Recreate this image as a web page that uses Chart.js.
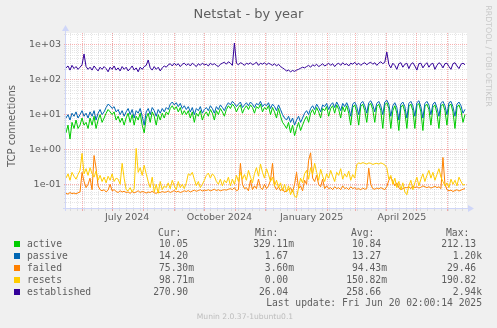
<!DOCTYPE html>
<html>
<head>
<meta charset="utf-8">
<title>Netstat - by year</title>
<script src="https://cdn.jsdelivr.net/npm/chart.js@4.4.1/dist/chart.umd.min.js"></script>
<style>
  html, body { margin: 0; padding: 0; background: #f0f0f0; }
  canvas { display: block; }
</style>
</head>
<body>
<canvas id="netstat" width="497" height="328"></canvas>
<script>
// one sample every 2 days, day 0 = 2024-05-16 (munin year view = 400 days)
const DAY_STEP = 2;

const active = [
  3, 5, 2, 6, 4, 7, 4, 5, 8, 5,
  6, 4, 8, 5, 9, 4, 7, 10, 6, 8,
  11, 14, 12, 10, 12, 7, 9, 6, 8, 5,
  8, 11, 6, 10, 5, 9, 7, 11, 5, 3,
  8, 11, 6, 12, 9, 5, 10, 7, 11, 8,
  12, 10, 15, 18, 14, 17, 12, 16, 10, 13,
  10, 13, 8, 12, 6, 11, 9, 13, 7, 10,
  12, 9, 14, 11, 7, 13, 10, 15, 12, 9,
  14, 18, 15, 20, 17, 12, 16, 19, 11, 15,
  18, 14, 19, 16, 11, 17, 15, 20, 12, 16,
  14, 18, 10, 16, 12, 8, 15, 9, 6, 5,
  4, 6, 3, 5, 2.5, 4, 6, 3.5, 5, 7,
  9, 6, 11, 14, 10, 16, 12, 8, 15, 13,
  17, 9, 15, 18, 11, 19, 14, 8, 17, 12,
  18, 11, 5, 16, 19, 12, 5, 17, 20, 13,
  6, 18, 21, 14, 6, 17, 20, 13, 4, 19,
  22, 15, 4, 13, 18, 11, 3.5, 16, 19, 12,
  4, 17, 20, 13, 4, 18, 21, 12, 3.5, 17,
  20, 14, 5, 16, 19, 11, 4, 17, 20, 13,
  5, 18, 20, 12, 4, 16, 19, 13, 6, 10.05
];

const passive = [
  8, 10, 7, 11, 9, 12, 8, 10, 13, 9,
  11, 8, 12, 9, 13, 7, 11, 14, 10, 12,
  16, 20, 18, 15, 17, 12, 14, 10, 13, 9,
  12, 15, 10, 14, 8, 13, 11, 15, 9, 5,
  12, 15, 10, 16, 13, 9, 14, 11, 15, 12,
  16, 14, 20, 23, 19, 22, 17, 21, 15, 18,
  14, 17, 12, 16, 10, 15, 13, 17, 11, 14,
  16, 13, 18, 15, 11, 17, 14, 19, 16, 13,
  18, 22, 19, 24, 21, 17, 20, 23, 16, 19,
  22, 18, 23, 20, 16, 21, 19, 24, 17, 20,
  18, 22, 15, 20, 17, 13, 19, 14, 10, 8,
  7, 9, 6, 8, 5, 7, 9, 6, 8, 11,
  13, 10, 15, 18, 14, 20, 16, 12, 19, 17,
  21, 14, 19, 22, 16, 23, 18, 13, 21, 17,
  22, 16, 9, 20, 23, 17, 10, 21, 24, 18,
  11, 22, 25, 19, 12, 21, 24, 18, 10, 23,
  26, 20, 9, 18, 22, 16, 7, 20, 23, 17,
  8, 21, 24, 18, 9, 22, 25, 17, 8, 21,
  24, 19, 10, 20, 23, 16, 9, 21, 24, 18,
  10, 22, 24, 17, 9, 20, 23, 18, 11, 14.2
];

const failed = [
  0.055, 0.052, 0.058, 0.054, 0.056, 0.053, 0.057, 0.06, 0.22, 0.12,
  0.08, 0.1, 0.15, 0.07, 0.67, 0.29, 0.09, 0.07, 0.065, 0.07,
  0.06, 0.068, 0.1, 0.065, 0.07, 0.062, 0.058, 0.065, 0.06, 0.063,
  0.058, 0.06, 0.055, 0.062, 0.057, 0.06, 0.065, 0.058, 0.062, 0.06,
  0.056, 0.06, 0.058, 0.063, 0.057, 0.055, 0.06, 0.058, 0.062, 0.059,
  0.06, 0.064, 0.058, 0.062, 0.066, 0.06, 0.063, 0.058, 0.061, 0.065,
  0.062, 0.066, 0.06, 0.064, 0.068, 0.063, 0.066, 0.07, 0.064, 0.068,
  0.066, 0.07, 0.065, 0.068, 0.072, 0.066, 0.07, 0.065, 0.068, 0.07,
  0.068, 0.072, 0.075, 0.07, 0.08, 0.065, 0.07, 0.4, 0.1, 0.075,
  0.08, 0.065, 0.13, 0.07, 0.09, 0.075, 0.14, 0.08, 0.07, 0.1,
  0.075, 0.09, 0.13, 0.4, 0.09, 0.07, 0.085, 0.065, 0.075, 0.06,
  0.065, 0.07, 0.08, 0.06, 0.1, 0.22, 0.075, 0.09, 0.065, 0.13,
  0.1, 0.49, 0.8, 0.15, 0.12, 0.18, 0.1, 0.085, 0.14, 0.075,
  0.09, 0.075, 0.08, 0.07, 0.085, 0.075, 0.08, 0.07, 0.09, 0.075,
  0.08, 0.07, 0.085, 0.075, 0.08, 0.072, 0.075, 0.07, 0.078, 0.072,
  0.075, 0.29, 0.1, 0.075, 0.072, 0.078, 0.074, 0.08, 0.075, 0.07,
  0.085, 0.13, 0.16, 0.12, 0.09, 0.11, 0.08, 0.07, 0.075, 0.08,
  0.08, 0.085, 0.075, 0.09, 0.08, 0.085, 0.078, 0.082, 0.09, 0.085,
  0.08, 0.085, 0.078, 0.082, 0.088, 0.08, 0.085, 0.075, 0.59, 0.1,
  0.07, 0.065, 0.068, 0.062, 0.066, 0.07, 0.064, 0.068, 0.072, 0.0753
];

const resets = [
  0.15, 0.2, 0.13, 0.22, 0.17, 0.14, 0.19, 0.25, 0.77, 0.2,
  0.28, 0.18, 0.3, 0.2, 0.16, 0.24, 0.13, 0.18, 0.12, 0.16,
  0.11, 0.17, 0.13, 0.2, 0.12, 0.15, 0.14, 0.1, 0.4, 0.15,
  0.07, 0.065, 0.08, 0.06, 0.075, 1.07, 0.22, 0.3, 0.18, 0.35,
  0.2, 0.12, 0.08, 0.16, 0.06, 0.1, 0.055, 0.12, 0.07, 0.09,
  0.08, 0.11, 0.075, 0.13, 0.09, 0.07, 0.12, 0.08, 0.1, 0.075,
  0.11, 0.2, 0.18, 0.22, 0.14, 0.09, 0.12, 0.08, 0.1, 0.13,
  0.18, 0.21, 0.15, 0.2, 0.17, 0.12, 0.1, 0.14, 0.09, 0.13,
  0.11, 0.16, 0.09, 0.14, 0.1, 0.18, 0.12, 0.22, 0.14, 0.19,
  0.13, 0.25, 0.16, 0.11, 0.2, 0.3, 0.17, 0.38, 0.22, 0.15,
  0.28, 0.19, 0.12, 0.16, 0.09, 0.13, 0.08, 0.11, 0.065, 0.1,
  0.06, 0.09, 0.05, 0.07, 0.045, 0.042, 0.08, 0.15, 0.11, 0.2,
  0.25, 0.14, 0.3, 0.19, 0.4, 0.22, 0.13, 0.27, 0.17, 0.12,
  0.2, 0.15, 0.25, 0.17, 0.12, 0.22, 0.18, 0.28, 0.14, 0.2,
  0.16, 0.24, 0.13, 0.19, 0.15, 0.37, 0.41, 0.39, 0.42, 0.4,
  0.38, 0.41, 0.4, 0.37, 0.39, 0.4, 0.38, 0.41, 0.39, 0.36,
  0.3, 0.14, 0.18, 0.1, 0.15, 0.08, 0.12, 0.07, 0.11, 0.06,
  0.05, 0.09, 0.13, 0.07, 0.11, 0.16, 0.09, 0.14, 0.2, 0.12,
  0.18, 0.25, 0.15, 0.22, 0.13, 0.19, 0.28, 0.16, 0.12, 0.09,
  0.11, 0.08, 0.14, 0.1, 0.13, 0.09, 0.16, 0.12, 0.095, 0.0987
];

const established = [
  220, 250, 190, 260, 210, 240, 200, 230, 270, 550,
  240, 200, 230, 190, 250, 210, 180, 230, 200, 240,
  210, 170, 230, 200, 250, 190, 220, 180, 240, 200,
  230, 180, 210, 250, 190, 220, 170, 230, 200, 240,
  260, 370, 220, 190, 240, 200, 230, 180, 220, 250,
  230, 270, 290, 250, 300, 260, 290, 240, 280, 300,
  260, 290, 250, 300, 270, 240, 290, 260, 300, 270,
  280, 250, 300, 270, 290, 260, 240, 280, 300, 320,
  280, 330, 300, 260, 1140, 300, 270, 310, 290, 260,
  300, 280, 310, 270, 290, 320, 260, 300, 280, 310,
  270, 300, 280, 260, 290, 250, 280, 240, 220, 200,
  180, 190, 170, 185, 175, 190, 200, 215, 230, 220,
  240, 260, 230, 270, 250, 280, 240, 260, 290, 250,
  270, 300, 260, 290, 240, 280, 300, 260, 310, 270,
  290, 250, 300, 280, 320, 270, 300, 260, 290, 310,
  270, 300, 320, 280, 310, 260, 300, 330, 290, 320,
  630, 280, 220, 300, 260, 200, 290, 310, 230, 280,
  300, 210, 280, 310, 250, 190, 290, 300, 220, 270,
  310, 230, 280, 300, 200, 260, 310, 280, 220, 290,
  300, 240, 200, 290, 310, 250, 210, 280, 300, 270.9
];

const seriesNames = ['active', 'passive', 'failed', 'resets', 'established'];
const seriesColors = ['#00cc00', '#0066b3', '#ff8000', '#ffcc00', '#330099'];
const seriesValues = [active, passive, failed, resets, established];

const curVals = ['10.05', '14.20', '75.30m', '98.71m', '270.90'];
const minVals = ['329.11m', '1.67', '3.60m', '0.00', '26.04'];
const avgVals = ['10.84', '13.27', '94.43m', '150.82m', '258.66'];
const maxVals = ['212.13', '1.20k', '29.46', '190.82', '2.94k'];
const lastUpdate = 'Last update: Fri Jun 20 02:00:14 2025';

// x axis (days since 2024-05-16)
const X_DAYS = 400;
const monthStarts = [16, 46, 77, 108, 138, 169, 199, 230, 261, 289, 320, 350, 381];
const firstMonday = 4;
const quarterLabels = ['July 2024', 'October 2024', 'January 2025', 'April 2025'];
const quarterLabelDays = [61, 153, 245, 335];

// y axis
const Y_MIN = 0.0195, Y_MAX = 2210;
const yDecades = [0.1, 1, 10, 100, 1000];

const GRID = 'rgba(170,170,170,0.3)';
const MGRID = 'rgba(240,110,110,0.55)';
const FONT = '#5e5e5e';
const AXIS = '#cfd6f8';

const xTicks = [];
for (let d = firstMonday; d < X_DAYS; d += 7) xTicks.push({ value: d, kind: 'week' });
monthStarts.forEach(d => xTicks.push({ value: d, kind: 'month' }));
quarterLabelDays.forEach((d, i) => xTicks.push({ value: d, kind: 'label', txt: quarterLabels[i] }));
xTicks.sort((a, b) => a.value - b.value);

const yTicks = [];
for (let e = -2; e <= 3; e++) {
  for (let k = 1; k <= 9; k++) {
    const v = +(k * Math.pow(10, e)).toPrecision(6);
    if (v >= Y_MIN && v <= Y_MAX) yTicks.push({ value: v, kind: k === 1 ? 'month' : 'week' });
  }
}

function gridColor(c) {
  if (!c.tick) return 'transparent';
  if (c.tick.kind === 'month') return MGRID;
  if (c.tick.kind === 'week') return GRID;
  return 'transparent';
}

function fmtExp(v) {
  const e = Math.round(Math.log10(v));
  return '1e' + (e < 0 ? '-' : '+') + String(Math.abs(e)).padStart(2, '0');
}

const datasets = seriesNames.map((name, s) => ({
  label: name,
  data: seriesValues[s].map((v, i) => ({ x: i * DAY_STEP, y: v })),
  borderColor: seriesColors[s],
  backgroundColor: seriesColors[s],
  borderWidth: 1,
  pointRadius: 0,
  tension: 0,
  fill: false,
  order: seriesNames.length - s
}));

const rrdDecor = {
  id: 'rrdDecor',
  beforeDraw(chart) {
    const { ctx, chartArea: a } = chart;
    ctx.save();
    ctx.fillStyle = '#f0f0f0';
    ctx.fillRect(0, 0, chart.width, chart.height);
    ctx.fillStyle = '#ffffff';
    ctx.fillRect(a.left, a.top, a.right - a.left, a.bottom - a.top);
    ctx.restore();
  },
  afterDraw(chart) {
    const { ctx, chartArea: a } = chart;
    ctx.save();

    // axes + arrows
    ctx.strokeStyle = AXIS;
    ctx.fillStyle = AXIS;
    ctx.lineWidth = 1;
    ctx.beginPath();
    ctx.moveTo(a.left - 3, a.bottom - 0.5);
    ctx.lineTo(a.right + 2, a.bottom - 0.5);
    ctx.moveTo(a.left - 0.5, a.bottom + 2);
    ctx.lineTo(a.left - 0.5, a.top - 3);
    ctx.stroke();
    ctx.beginPath();
    ctx.moveTo(a.right + 1, a.bottom - 4);
    ctx.lineTo(a.right + 7, a.bottom - 0.5);
    ctx.lineTo(a.right + 1, a.bottom + 3);
    ctx.closePath();
    ctx.fill();
    ctx.beginPath();
    ctx.moveTo(a.left - 4, a.top - 2);
    ctx.lineTo(a.left - 0.5, a.top - 8);
    ctx.lineTo(a.left + 3, a.top - 2);
    ctx.closePath();
    ctx.fill();

    // title
    ctx.fillStyle = FONT;
    ctx.font = '13px "DejaVu Sans"';
    ctx.textAlign = 'center';
    ctx.textBaseline = 'alphabetic';
    ctx.fillText('Netstat - by year', 248.5, 18);

    // vertical axis title
    ctx.save();
    ctx.translate(15, (a.top + a.bottom) / 2 + 5);
    ctx.rotate(-Math.PI / 2);
    ctx.font = '10px "DejaVu Sans"';
    ctx.fillText('TCP connections', 0, 0);
    ctx.restore();

    // watermark
    ctx.save();
    ctx.translate(488, 56);
    ctx.rotate(Math.PI / 2);
    ctx.fillStyle = '#c8c8c8';
    ctx.font = '7.9px "DejaVu Sans"';
    ctx.textBaseline = 'middle';
    ctx.fillText('RRDTOOL / TOBI OETIKER', 0, 0);
    ctx.restore();

    // legend
    ctx.font = '9.7px "DejaVu Sans Mono"';
    ctx.textBaseline = 'middle';
    ctx.fillStyle = FONT;
    ctx.textAlign = 'left';
    const heads = [['Cur:', 158], ['Min:', 255], ['Avg:', 351], ['Max:', 446]];
    heads.forEach(([t, x]) => ctx.fillText(t, x, 233.3));
    const cols = [curVals, minVals, avgVals, maxVals];
    const colRight = [194, 294, 387, 482];
    const pad = s => /[a-z]$/i.test(s) ? s : s + ' ';
    seriesNames.forEach((name, s) => {
      const y = 244.3 + s * 12;
      ctx.fillStyle = seriesColors[s];
      ctx.fillRect(14, Math.round(y) - 3, 6, 6);
      ctx.fillStyle = FONT;
      ctx.textAlign = 'left';
      ctx.fillText(name, 27, y);
      ctx.textAlign = 'right';
      cols.forEach((col, c) => ctx.fillText(pad(col[s]), colRight[c], y));
    });
    ctx.textAlign = 'right';
    ctx.fillText(lastUpdate, 482, 303.3);

    ctx.textAlign = 'center';
    ctx.fillStyle = '#bdbdbd';
    ctx.font = '7.6px "DejaVu Sans"';
    ctx.fillText('Munin 2.0.37-1ubuntu0.1', 245, 317.3);
    ctx.restore();
  }
};

new Chart(document.getElementById('netstat').getContext('2d'), {
  type: 'line',
  data: { datasets },
  options: {
    responsive: false,
    animation: false,
    layout: { padding: { left: 0, top: 33, right: 30, bottom: 99 } },
    plugins: { legend: { display: false }, tooltip: { enabled: false }, title: { display: false } },
    scales: {
      x: {
        type: 'linear',
        min: 0,
        max: X_DAYS,
        bounds: 'data',
        afterBuildTicks: scale => { scale.ticks = xTicks.map(t => ({ ...t })); },
        afterFit: scale => { scale.height = 20; },
        grid: { color: gridColor, tickLength: 2, drawTicks: true },
        border: { display: false, dash: [1, 1] },
        ticks: {
          autoSkip: false,
          maxRotation: 0,
          padding: 1,
          color: FONT,
          font: { family: 'DejaVu Sans', size: 9.5 },
          callback: (v, i, ticks) => ticks[i].txt || ''
        }
      },
      y: {
        type: 'logarithmic',
        min: Y_MIN,
        max: Y_MAX,
        bounds: 'data',
        afterBuildTicks: scale => { scale.ticks = yTicks.map(t => ({ ...t })); },
        afterFit: scale => { scale.width = 66; },
        grid: { color: gridColor, tickLength: 2, drawTicks: true },
        border: { display: false, dash: [1, 1] },
        ticks: {
          autoSkip: false,
          padding: 3,
          color: FONT,
          font: { family: 'DejaVu Sans', size: 9.5 },
          callback: v => yDecades.some(d => Math.abs(d - v) < d * 1e-6) ? fmtExp(v) : ''
        }
      }
    }
  },
  plugins: [rrdDecor]
});
</script>
</body>
</html>
